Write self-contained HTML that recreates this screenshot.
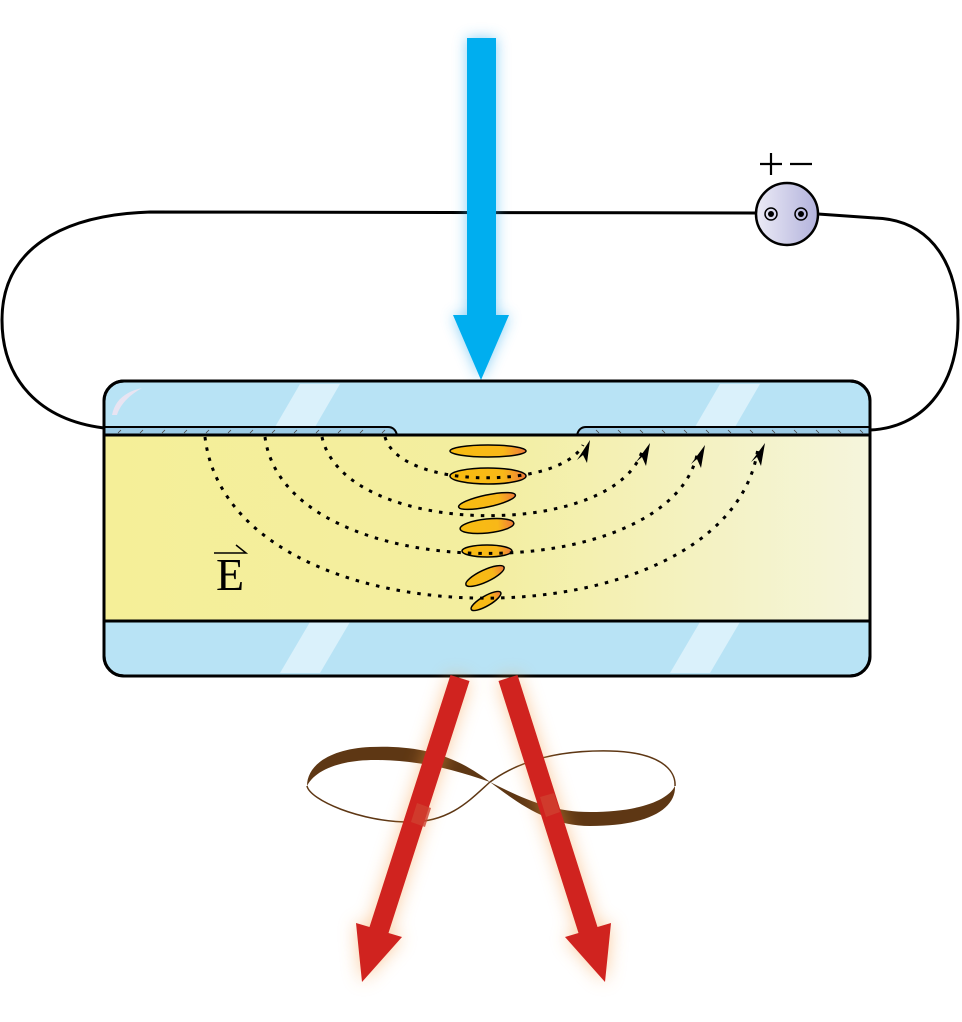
<!DOCTYPE html>
<html><head><meta charset="utf-8"><style>html,body{margin:0;padding:0;background:#fff}svg{display:block}</style></head>
<body>
<svg width="962" height="1022" viewBox="0 0 962 1022" xmlns="http://www.w3.org/2000/svg">
<defs>
<filter id="gb" x="-50%" y="-20%" width="200%" height="140%"><feGaussianBlur stdDeviation="7"/></filter>
<filter id="gr" x="-50%" y="-20%" width="200%" height="140%"><feGaussianBlur stdDeviation="9"/></filter>
<linearGradient id="lc" x1="0" x2="1" y1="0" y2="0">
<stop offset="0" stop-color="#f5ef98"/><stop offset="0.5" stop-color="#f3eea0"/><stop offset="1" stop-color="#f5f5dc"/></linearGradient>
<linearGradient id="mol" x1="0" x2="1"><stop offset="0" stop-color="#f8bc10"/><stop offset="0.7" stop-color="#f8b818"/><stop offset="1" stop-color="#ef7a3a"/></linearGradient>
<linearGradient id="bat" x1="0" x2="1"><stop offset="0" stop-color="#ecebf6"/><stop offset="1" stop-color="#b2b2dc"/></linearGradient>
</defs>

<path d="M104,428 C40,420 2,380 2,320 C2,250 60,215 150,212 L757,213" fill="none" stroke="#000" stroke-width="3"/>
<path d="M818,214 L875,218 C935,220 958,270 958,320 C958,390 920,428 870,430" fill="none" stroke="#000" stroke-width="3"/>

<circle cx="787" cy="214" r="31" fill="url(#bat)" stroke="#000" stroke-width="2.5"/>
<circle cx="771" cy="214" r="6" fill="none" stroke="#000" stroke-width="1.5"/><circle cx="771" cy="214" r="3" fill="#000"/>
<circle cx="801" cy="214" r="6" fill="none" stroke="#000" stroke-width="1.5"/><circle cx="801" cy="214" r="3" fill="#000"/>
<path d="M760,164 H782 M771,153 V175 M790,164 H812" stroke="#000" stroke-width="2.2"/>

<g filter="url(#gb)" opacity="0.6"><path d="M467,38 H496 V315 H509 L481,380 L453,315 H467 Z" fill="#3ab0f0"/></g>
<path d="M467,38 H496 V315 H509 L481,380 L453,315 H467 Z" fill="#00aeef"/>

<rect x="104" y="381" width="766" height="295" rx="20" fill="#b8e3f5" stroke="#000" stroke-width="3"/>
<g fill="#daf1fb">
<polygon points="300,384 340,384 315,427 275,427"/>
<polygon points="720,384 760,384 735,427 695,427"/>
<polygon points="310,622 350,622 320,673 280,673"/>
<polygon points="700,622 740,622 710,673 670,673"/>
</g>
<path d="M112,415 C115,400 125,392 142,388 C128,396 120,405 117,415 Z" fill="#e8e4f2"/>
<rect x="105" y="435" width="764" height="186" fill="url(#lc)"/>
<path d="M104,427 H388 Q395,427 397,435 H104 Z" fill="#9ccbe6" stroke="#000" stroke-width="2"/>
<path d="M870,427 H586 Q579,427 577,435 H870 Z" fill="#9ccbe6" stroke="#000" stroke-width="2"/>
<g stroke="#444" stroke-width="0.8">
<path d="M118,433l3,-3M140,433l3,-3M162,433l3,-3M184,433l3,-3M206,433l3,-3M228,433l3,-3M250,433l3,-3M272,433l3,-3M294,433l3,-3M316,433l3,-3M338,433l3,-3M360,433l3,-3M382,433l3,-3"/>
<path d="M596,430l3,3M618,430l3,3M640,430l3,3M662,430l3,3M684,430l3,3M706,430l3,3M728,430l3,3M750,430l3,3M772,430l3,3M794,430l3,3M816,430l3,3M838,430l3,3M860,430l3,3"/>
</g>
<line x1="104" y1="435" x2="870" y2="435" stroke="#000" stroke-width="3"/>
<line x1="104" y1="621" x2="870" y2="621" stroke="#000" stroke-width="3"/>
<rect x="104" y="381" width="766" height="295" rx="20" fill="none" stroke="#000" stroke-width="3"/>

<g stroke="#000" stroke-width="1.5" fill="url(#mol)">
<ellipse cx="488" cy="451" rx="38" ry="6"/>
<ellipse cx="488" cy="476" rx="38" ry="8"/>
<ellipse cx="487" cy="501" rx="29" ry="6" transform="rotate(-12 487 501)"/>
<ellipse cx="487" cy="526" rx="27" ry="7" transform="rotate(-6 487 526)"/>
<ellipse cx="487" cy="551" rx="25" ry="6"/>
<ellipse cx="485" cy="576" rx="21" ry="6" transform="rotate(-25 485 576)"/>
<ellipse cx="486" cy="601" rx="17" ry="5" transform="rotate(-30 486 601)"/>
</g>

<g fill="none" stroke="#000" stroke-width="3" stroke-dasharray="3.5,7">
<path d="M385,437 C400,490 560,490 583,445"/>
<path d="M322,437 C345,540 620,540 643,448"/>
<path d="M265,437 C285,590 675,590 698,450"/>
<path d="M205,437 C230,650 730,650 758,448"/>
</g>
<g fill="#000">
<path d="M590,440 L587,463 L583,455 L577,460 Z"/>
<path d="M650,443 L646,466 L642,457 L636,462 Z"/>
<path d="M705,445 L701,468 L697,459 L691,464 Z"/>
<path d="M765,443 L761,466 L757,457 L751,462 Z"/>
</g>

<text x="230" y="590" font-family="Liberation Serif, serif" font-size="46" text-anchor="middle">E</text>
<path d="M214,553 H246 L236,545" stroke="#000" stroke-width="1.5" fill="none"/>

<g fill="#5e3714">
<path d="M490,782 C455,755 420,745 370,747 C330,749 307,765 307,786 C315,770 340,760 375,760 C420,760 455,770 490,782Z"/>
<path d="M490,782 C520,805 550,826 590,826 C650,826 676,808 675,786 C668,800 640,812 590,812 C550,812 520,797 490,782Z"/>
</g>
<g fill="none" stroke="#5e3714" stroke-width="1.5">
<path d="M307,786 C310,800 360,822 410,822 C450,822 470,800 490,782"/>
<path d="M490,782 C520,760 560,750 610,751 C660,752 676,770 675,786"/>
</g>

<g filter="url(#gr)" opacity="0.5">
<polygon points="450.5,675 469.5,681 388.5,933 402,937 362,982 356,923 369.5,927" fill="#f59a40"/>
<polygon points="498.5,681 517.5,675 597.5,927 611,923 605,982 565,937 578.5,933" fill="#f59a40"/>
</g>
<polygon points="450.5,675 469.5,681 388.5,933 402,937 362,982 356,923 369.5,927" fill="#d0231f"/>
<polygon points="498.5,681 517.5,675 597.5,927 611,923 605,982 565,937 578.5,933" fill="#d0231f"/>
<polygon points="417,803 431,808 425,827 411,822" fill="#d04030" opacity="0.8"/>
<polygon points="540,797 554,793 560,812 546,817" fill="#d04030" opacity="0.8"/>
</svg>
</body></html>
